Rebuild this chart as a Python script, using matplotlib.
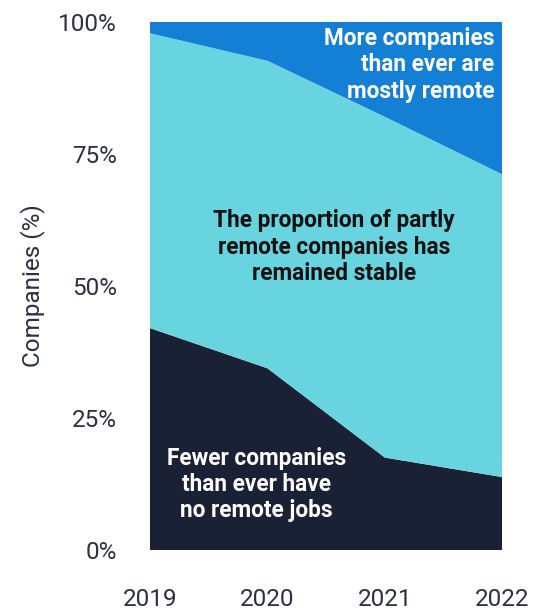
import matplotlib
matplotlib.use("Agg")
import matplotlib.pyplot as plt
from matplotlib.ticker import FuncFormatter

years = [2019, 2020, 2021, 2022]
no_remote = [42.0, 34.4, 17.5, 13.8]
partly_remote = [55.8, 58.2, 64.5, 57.3]
mostly_remote = [2.2, 7.4, 18.0, 28.9]
y_ticks = [0, 25, 50, 75, 100]

navy = "#1b2134"
cyan = "#67d4df"
blue = "#1380d6"
text_col = "#2b3142"

plt.rcParams["font.family"] = ["Roboto", "DejaVu Sans"]

fig = plt.figure(figsize=(5.48, 6.14), dpi=100)
ax = fig.add_axes([0.2737, 0.1042, 0.6429, 0.8605])

ax.stackplot(years, no_remote, partly_remote, mostly_remote,
             colors=[navy, cyan, blue], linewidth=0)

ax.set_xlim(years[0], years[-1])
ax.set_ylim(0, 100)
ax.set_xticks(years)
ax.set_yticks(y_ticks)
ax.yaxis.set_major_formatter(FuncFormatter(lambda v, _: f"{v:.0f}%"))
ax.tick_params(axis="both", length=0, labelsize=17.5, labelcolor=text_col)
ax.tick_params(axis="y", pad=24)
ax.tick_params(axis="x", pad=27)
for s in ax.spines.values():
    s.set_visible(False)

ax.set_ylabel("Companies (%)", fontsize=17.5, color=text_col, labelpad=9)

note_kw = dict(transform=ax.transAxes, va="center", fontsize=16.3,
               fontweight="bold", linespacing=1.19)
ax.text(0.978, 0.918, "More companies\nthan ever are\nmostly remote",
        ha="right", color="white", **note_kw)
ax.text(0.522, 0.573, "The proportion of partly\nremote companies has\nremained stable",
        ha="center", color="#111111", **note_kw)
ax.text(0.303, 0.124, "Fewer companies\nthan ever have\nno remote jobs",
        ha="center", color="white", **note_kw)

fig.savefig("out.png", dpi=100)
